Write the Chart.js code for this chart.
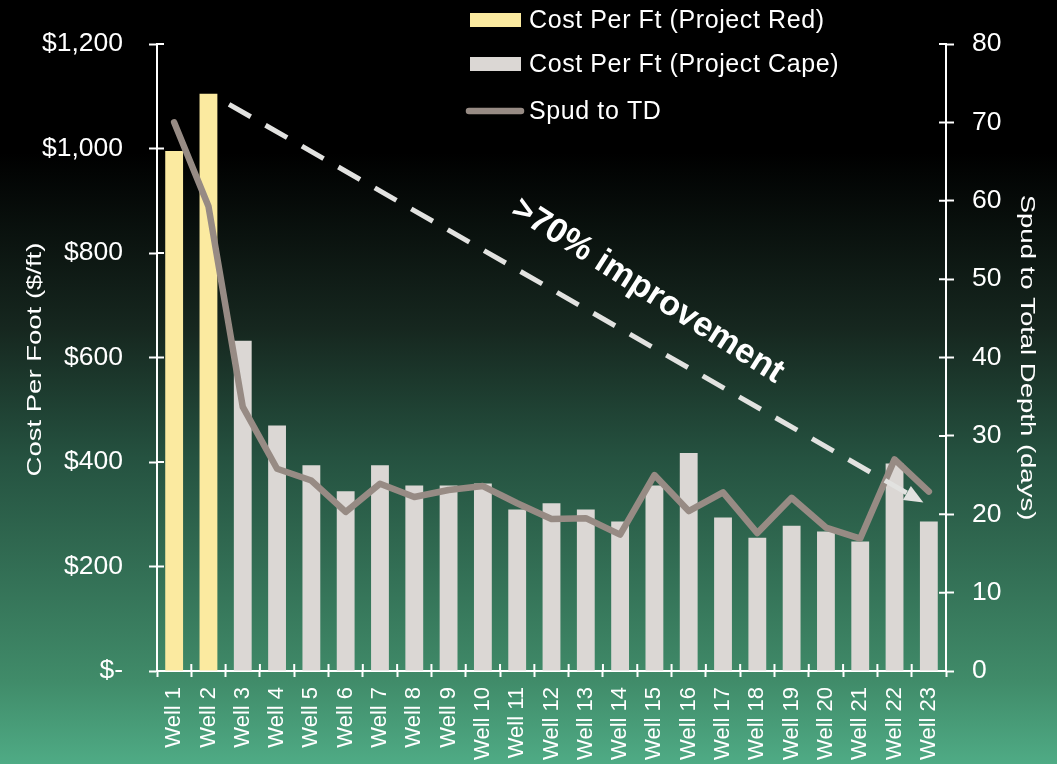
<!DOCTYPE html>
<html>
<head>
<meta charset="utf-8">
<title>Cost per foot and spud to TD by well</title>
<script src="https://cdn.jsdelivr.net/npm/chart.js@4.4.1/dist/chart.umd.min.js"></script>
<style>
  html, body { margin: 0; padding: 0; background: #000; }
  #wrap { width: 1057px; height: 764px; position: relative; }
</style>
</head>
<body>
<div id="wrap"><canvas id="wellChart"></canvas></div>
<script>
const wells = ['Well 1', 'Well 2', 'Well 3', 'Well 4', 'Well 5', 'Well 6', 'Well 7', 'Well 8',
  'Well 9', 'Well 10', 'Well 11', 'Well 12', 'Well 13', 'Well 14', 'Well 15', 'Well 16',
  'Well 17', 'Well 18', 'Well 19', 'Well 20', 'Well 21', 'Well 22', 'Well 23'];

// cost per foot, $/ft
const costRed = [995, 1105, null, null, null, null, null, null, null, null, null, null,
  null, null, null, null, null, null, null, null, null, null, null];
const costCape = [null, null, 632, 470, 394, 344, 394, 355, 355, 359, 309, 321,
  309, 286, 355, 417, 294, 255, 278, 267, 248, 397, 286];

// spud to total depth, days
const spudToTD = [70, 59.3, 33.7, 25.8, 24.3, 20.3, 23.9, 22.2, 23.1, 23.6, 21.4, 19.4,
  19.5, 17.4, 25.0, 20.4, 22.8, 17.6, 22.1, 18.3, 16.9, 27.0, 22.9];

const costTicks = [0, 200, 400, 600, 800, 1000, 1200];
const dayTicks = [0, 10, 20, 30, 40, 50, 60, 70, 80];

// trend arrow, in category index / days
const trendFrom = { x: 1.6, y: 72.3 };
const trendTo = { x: 21.84, y: 21.5 };
const trendLabel = '>70% improvement';

const AXIS = '#ffffff';
const FAMILY = "'Liberation Sans', Arial, sans-serif";
const TICK_FONT = { family: FAMILY, size: 26.5 };

function fmtCost(v) {
  if (v === 0) return '$-';
  return '$' + v.toLocaleString('en-US');
}

// black-to-green backdrop over the full canvas
const backdrop = {
  id: 'backdrop',
  beforeDraw(chart) {
    const ctx = chart.ctx, h = chart.height;
    const g = ctx.createLinearGradient(0, 0, 0, h);
    g.addColorStop(0, '#000000');
    g.addColorStop(0.2, '#000000');
    g.addColorStop(0.43, '#16271f');
    g.addColorStop(0.6, '#255240');
    g.addColorStop(0.89, '#408b69');
    g.addColorStop(1, '#4fab85');
    ctx.save();
    ctx.fillStyle = g;
    ctx.fillRect(0, 0, chart.width, h);
    ctx.restore();
  }
};

// inner half of the axis tick marks (Chart.js only draws them outward)
const innerTicks = {
  id: 'innerTicks',
  afterDraw(chart) {
    const ctx = chart.ctx, a = chart.chartArea;
    const x = chart.scales.x, y = chart.scales.y, y1 = chart.scales.y1;
    ctx.save();
    ctx.strokeStyle = AXIS;
    ctx.lineWidth = 2;
    ctx.beginPath();
    costTicks.forEach(function(v) {
      const p = y.getPixelForValue(v);
      ctx.moveTo(a.left, p); ctx.lineTo(a.left + 7, p);
    });
    dayTicks.forEach(function(v) {
      const p = y1.getPixelForValue(v);
      ctx.moveTo(a.right, p); ctx.lineTo(a.right - 7, p);
    });
    for (let i = 0; i <= wells.length; i++) {
      const p = x.getPixelForValue(i - 0.5);
      ctx.moveTo(p, a.bottom); ctx.lineTo(p, a.bottom - 7);
    }
    ctx.stroke();
    ctx.restore();
  }
};

// dashed trend arrow plus its rotated label
const trendArrow = {
  id: 'trendArrow',
  afterDatasetsDraw(chart) {
    const ctx = chart.ctx, x = chart.scales.x, y1 = chart.scales.y1;
    const x0 = x.getPixelForValue(trendFrom.x), yA = y1.getPixelForValue(trendFrom.y);
    const x1 = x.getPixelForValue(trendTo.x), yB = y1.getPixelForValue(trendTo.y);
    const ang = Math.atan2(yB - yA, x1 - x0);
    const headLen = 19, headW = 8;
    const bx = x1 - Math.cos(ang) * headLen, by = yB - Math.sin(ang) * headLen;
    ctx.save();
    ctx.strokeStyle = '#e2e2e0';
    ctx.lineWidth = 5;
    ctx.setLineDash([25, 17]);
    ctx.beginPath();
    ctx.moveTo(x0, yA);
    ctx.lineTo(bx, by);
    ctx.stroke();
    ctx.setLineDash([]);
    ctx.fillStyle = '#e2e2e0';
    ctx.beginPath();
    ctx.moveTo(x1, yB);
    ctx.lineTo(bx - Math.sin(ang) * headW, by + Math.cos(ang) * headW);
    ctx.lineTo(bx + Math.sin(ang) * headW, by - Math.cos(ang) * headW);
    ctx.closePath();
    ctx.fill();

    const cx = x.getPixelForValue(13.8), cy = y1.getPixelForValue(48.5);
    ctx.translate(cx, cy);
    ctx.rotate(32.5 * Math.PI / 180);
    ctx.fillStyle = '#ffffff';
    ctx.font = 'bold 34.5px ' + FAMILY;
    ctx.textAlign = 'center';
    ctx.textBaseline = 'middle';
    ctx.fillText(trendLabel, 0, 0);
    ctx.restore();
  }
};

// stacked legend in the top middle
const stackedLegend = {
  id: 'stackedLegend',
  afterDraw(chart) {
    const ctx = chart.ctx;
    const rows = [20, 64, 111];
    ctx.save();
    ctx.font = '25px ' + FAMILY;
    ctx.letterSpacing = '0.6px';
    ctx.textBaseline = 'middle';
    chart.data.datasets.forEach(function(ds, i) {
      const cy = rows[i];
      if (ds.type === 'line') {
        ctx.strokeStyle = ds.borderColor;
        ctx.lineWidth = 6.5;
        ctx.lineCap = 'round';
        ctx.beginPath();
        ctx.moveTo(469, cy); ctx.lineTo(521, cy);
        ctx.stroke();
      } else {
        ctx.fillStyle = ds.backgroundColor;
        ctx.fillRect(470, cy - 7, 51, 14);
      }
      ctx.fillStyle = '#ffffff';
      ctx.fillText(ds.label, 529, cy + 1);
    });
    ctx.restore();
  }
};

// axis titles, drawn slightly squat
const axisTitles = {
  id: 'axisTitles',
  afterDraw(chart) {
    const ctx = chart.ctx, a = chart.chartArea;
    const mid = (a.top + a.bottom) / 2;
    ctx.save();
    ctx.fillStyle = '#ffffff';
    ctx.font = '27.5px ' + FAMILY;
    ctx.textAlign = 'center';
    ctx.textBaseline = 'middle';
    ctx.save();
    ctx.translate(35, mid + 2);
    ctx.rotate(-Math.PI / 2);
    ctx.scale(1, 0.76);
    ctx.fillText('Cost Per Foot ($/ft)', 0, 0);
    ctx.restore();
    ctx.save();
    ctx.translate(1027, mid);
    ctx.rotate(Math.PI / 2);
    ctx.scale(1, 0.76);
    ctx.fillText('Spud to Total Depth (days)', 0, 0);
    ctx.restore();
    ctx.restore();
  }
};

new Chart(document.getElementById('wellChart'), {
  data: {
    labels: wells,
    datasets: [
      { type: 'bar', label: 'Cost Per Ft (Project Red)', data: costRed, yAxisID: 'y',
        backgroundColor: '#fbeaa0', order: 2 },
      { type: 'bar', label: 'Cost Per Ft (Project Cape)', data: costCape, yAxisID: 'y',
        backgroundColor: '#dbd7d4', order: 2 },
      { type: 'line', label: 'Spud to TD', data: spudToTD, yAxisID: 'y1',
        borderColor: '#978b84', borderWidth: 6.5, pointRadius: 0, tension: 0,
        borderCapStyle: 'round', borderJoinStyle: 'round', order: 0 }
    ]
  },
  options: {
    responsive: true,
    maintainAspectRatio: false,
    animation: false,
    layout: { padding: { top: 44, left: 0, right: 0, bottom: 0 } },
    datasets: { bar: { grouped: false, barPercentage: 1, categoryPercentage: 0.52 } },
    plugins: { legend: { display: false }, tooltip: { enabled: false } },
    scales: {
      x: {
        grid: { display: true, drawOnChartArea: false, offset: true, tickLength: 6, tickColor: AXIS, tickWidth: 2 },
        border: { color: AXIS, width: 2 },
        ticks: { color: AXIS, font: { family: FAMILY, size: 22 }, maxRotation: 90, minRotation: 90, padding: 10, autoSkip: false },
        afterFit(s) { s.height = 93; }
      },
      y: {
        position: 'left', min: 0, max: 1200,
        afterBuildTicks(s) { s.ticks = costTicks.map(function(v) { return { value: v }; }); },
        grid: { drawOnChartArea: false, tickLength: 8, tickColor: AXIS, tickWidth: 2 },
        border: { color: AXIS, width: 2 },
        ticks: { color: AXIS, font: TICK_FONT, padding: 26, callback: fmtCost },
        afterFit(s) { s.width = 157; }
      },
      y1: {
        position: 'right', min: 0, max: 80,
        afterBuildTicks(s) { s.ticks = dayTicks.map(function(v) { return { value: v }; }); },
        grid: { drawOnChartArea: false, tickLength: 8, tickColor: AXIS, tickWidth: 2 },
        border: { color: AXIS, width: 2 },
        ticks: { color: AXIS, font: TICK_FONT, padding: 18 },
        afterFit(s) { s.width = 111; }
      }
    }
  },
  plugins: [backdrop, innerTicks, trendArrow, stackedLegend, axisTitles]
});
</script>
</body>
</html>
